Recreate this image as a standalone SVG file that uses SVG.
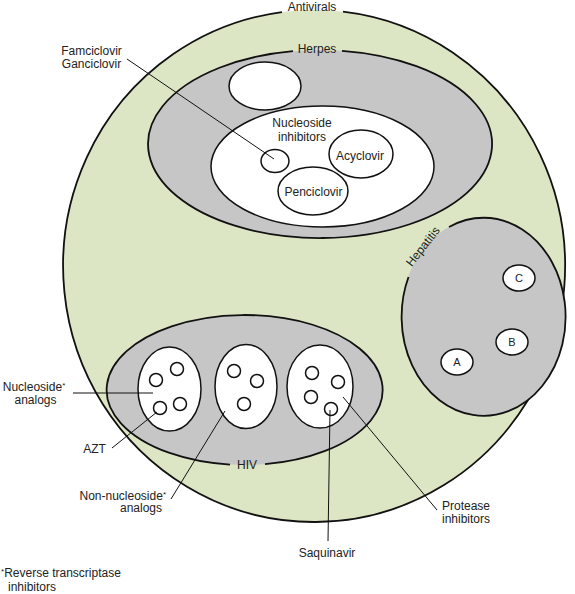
<svg xmlns="http://www.w3.org/2000/svg" width="575" height="594" viewBox="0 0 575 594">
<style>
text{font-family:"Liberation Sans",Arial,sans-serif;font-size:12px;fill:#222}
.green{fill:#dce6c4}
.gray{fill:#c6c6c6}
.white{fill:#fff}
.ol{fill:none;stroke:#111;stroke-width:1.8}
.sm{stroke:#111;stroke-width:1.5}
.lead{stroke:#111;stroke-width:1;fill:none}
.sup{font-size:8px}
.letter{font-size:11px}
</style>
<rect width="575" height="594" fill="#fff"/>
<g id="antivirals">
<ellipse class="green" cx="314" cy="266" rx="251" ry="256"/>
<path class="ol" d="M343,11.7 A251,256 0 1 1 282,12.1"/>
<text x="312" y="11" text-anchor="middle">Antivirals</text>
</g>
<g id="herpes">
<ellipse class="gray" cx="320" cy="144" rx="172" ry="94"/>
<path class="ol" d="M342,50.8 A172,94 0 1 1 293,51.2"/>
<text x="317" y="52.5" text-anchor="middle">Herpes</text>
</g>
<g id="herpes-other">
<ellipse class="white sm" cx="265" cy="86" rx="36" ry="24"/>
</g>
<g id="nucleoside-inhibitors">
<ellipse class="white sm" cx="322.5" cy="166.5" rx="111.5" ry="60.5"/>
<text x="302" y="127" text-anchor="middle">Nucleoside</text>
<text x="302" y="141" text-anchor="middle">inhibitors</text>
</g>
<g id="famciclovir">
<ellipse class="white sm" cx="275" cy="161" rx="14" ry="11.5"/>
</g>
<g id="acyclovir">
<ellipse class="white sm" cx="361" cy="154" rx="32" ry="24"/>
<text x="360" y="160" text-anchor="middle">Acyclovir</text>
</g>
<g id="penciclovir">
<ellipse class="white sm" cx="313" cy="191" rx="35" ry="24"/>
<text x="313.5" y="196" text-anchor="middle">Penciclovir</text>
</g>
<g id="hepatitis">
<ellipse class="gray" cx="483" cy="317" rx="82" ry="99"/>
<path class="ol" d="M449,227 A82,99 0 1 1 408.5,277"/>
<text x="0" y="0" text-anchor="middle" dominant-baseline="central" transform="translate(423,246.5) rotate(-52)">Hepatitis</text>
</g>
<g id="hep-c">
<ellipse class="white sm" cx="519" cy="278" rx="16" ry="13"/>
<text class="letter" x="519" y="282" text-anchor="middle">C</text>
</g>
<g id="hep-b">
<ellipse class="white sm" cx="512" cy="342" rx="16" ry="13"/>
<text class="letter" x="512" y="346" text-anchor="middle">B</text>
</g>
<g id="hep-a">
<ellipse class="white sm" cx="457" cy="362" rx="16" ry="13"/>
<text class="letter" x="457" y="366" text-anchor="middle">A</text>
</g>
<g id="hiv">
<ellipse class="gray" cx="245" cy="390" rx="138" ry="75"/>
<path class="ol" d="M265,464.2 A138,75 0 1 0 230,464.6"/>
<text x="247" y="469" text-anchor="middle">HIV</text>
</g>
<g id="nucleoside-analogs">
<ellipse class="white sm" cx="169.5" cy="389" rx="31.5" ry="42"/>
<circle class="white sm" cx="156" cy="380" r="6.5"/>
<circle class="white sm" cx="177" cy="369" r="6.5"/>
<circle class="white sm" cx="160" cy="408" r="6.5"/>
<circle class="white sm" cx="180" cy="404" r="6.5"/>
</g>
<g id="non-nucleoside-analogs">
<ellipse class="white sm" cx="246" cy="386.5" rx="31" ry="42"/>
<circle class="white sm" cx="234" cy="371" r="6.5"/>
<circle class="white sm" cx="257" cy="381" r="6.5"/>
<circle class="white sm" cx="244" cy="404" r="6.5"/>
</g>
<g id="protease-inhibitors">
<ellipse class="white sm" cx="320" cy="386.5" rx="33" ry="41.5"/>
<circle class="white sm" cx="312" cy="373" r="6.5"/>
<circle class="white sm" cx="338" cy="382" r="6.5"/>
<circle class="white sm" cx="311" cy="397" r="6.5"/>
<circle class="white sm" cx="331" cy="409" r="6.5"/>
</g>
<g id="connectors">
<line class="lead" x1="127" y1="59" x2="274" y2="159"/>
<line class="lead" x1="73" y1="393" x2="153" y2="393"/>
<line class="lead" x1="112" y1="448" x2="157" y2="412"/>
<line class="lead" x1="171" y1="499" x2="225" y2="411"/>
<line class="lead" x1="330" y1="410" x2="328" y2="541"/>
<line class="lead" x1="343" y1="397" x2="437" y2="510"/>
</g>
<g id="labels">
<text x="91.5" y="55" text-anchor="middle">Famciclovir</text>
<text x="91.5" y="68" text-anchor="middle">Ganciclovir</text>
<text x="34" y="391" text-anchor="middle">Nucleoside<tspan class="sup" dy="-3">*</tspan></text>
<text x="35.5" y="404" text-anchor="middle">analogs</text>
<text x="94.5" y="453" text-anchor="middle">AZT</text>
<text x="166" y="499.5" text-anchor="end">Non-nucleoside<tspan class="sup" dy="-3">*</tspan></text>
<text x="162" y="512" text-anchor="end">analogs</text>
<text x="327" y="557" text-anchor="middle">Saquinavir</text>
<text x="442" y="509.5">Protease</text>
<text x="442" y="523">inhibitors</text>
<text x="1" y="577"><tspan class="sup" dy="-3">*</tspan><tspan dy="3">Reverse transcriptase</tspan></text>
<text x="8" y="591">inhibitors</text>
</g>
</svg>
